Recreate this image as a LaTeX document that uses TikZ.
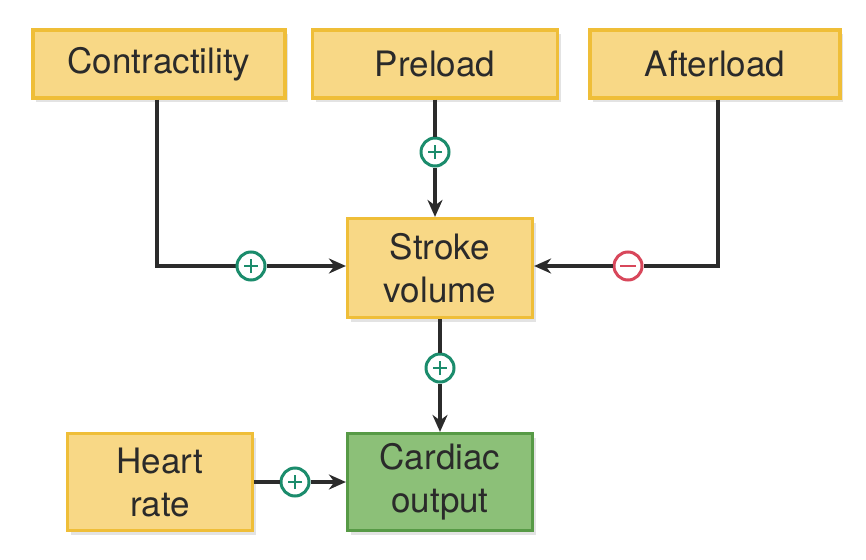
\documentclass[tikz,border=0pt]{standalone}
\usepackage{fontspec}
\setmainfont{TeX Gyre Heros}
\usetikzlibrary{arrows.meta,shadows}
\definecolor{yfill}{HTML}{F8D886}
\definecolor{ydraw}{HTML}{EFBE38}
\definecolor{gfill}{HTML}{8CC078}
\definecolor{gdraw}{HTML}{579A46}
\definecolor{plusc}{HTML}{1B8C6C}
\definecolor{minusc}{HTML}{D8475B}
\definecolor{txt}{HTML}{2A2A2A}
\definecolor{ln}{HTML}{2B2B2B}
\begin{document}
\begin{tikzpicture}[x=1pt,y=-1pt,
  boxbase/.style={rectangle, line width=3.2pt, inner sep=0pt, align=center,
    text=txt, font=\fontsize{35}{43}\selectfont,
    drop shadow={shadow xshift=3pt, shadow yshift=-4pt, opacity=0.18, fill=black!60}},
  ybox/.style={boxbase, fill=yfill, draw=ydraw},
  gbox/.style={boxbase, fill=gfill, draw=gdraw},
  conn/.style={draw=ln, line width=3.6pt},
  arr/.style={conn, -{Stealth[length=17pt,width=15pt]}},
  sign/.style={circle, minimum size=28pt, inner sep=0pt, fill=white, line width=3pt},
  plus/.style={sign, draw=plusc,
    path picture={\draw[plusc, line width=2.4pt]
      ([xshift=-7pt]path picture bounding box.center) -- ([xshift=7pt]path picture bounding box.center)
      ([yshift=-7pt]path picture bounding box.center) -- ([yshift=7pt]path picture bounding box.center);}},
  minus/.style={sign, draw=minusc,
    path picture={\draw[minusc, line width=2.4pt]
      ([xshift=-8pt]path picture bounding box.center) -- ([xshift=8pt]path picture bounding box.center);}}
]
\useasboundingbox (0,0) rectangle (866,559);
\fill[white] (0,0) rectangle (866,559);

\node[ybox, minimum width=252pt, minimum height=68pt] (contr) at (159,64) {Contractility};
\node[ybox, minimum width=245pt, minimum height=68pt] (pre) at (435,64) {Preload};
\node[ybox, minimum width=250pt, minimum height=68pt] (after) at (715,64) {Afterload};
\node[ybox, minimum width=185pt, minimum height=99pt] (sv) at (440,268) {Stroke\\volume};
\node[ybox, minimum width=185pt, minimum height=97pt] (hr) at (160,482) {Heart\\rate};
\node[gbox, minimum width=185pt, minimum height=97pt] (co) at (440,482) {Cardiac\\output};

\coordinate (c1) at (157,266);
\coordinate (c2) at (718,266);

% Contractility -> SV
\draw[conn] (contr.south -| c1) -- (c1) -- (251,266);
\node[plus] (p1) at (251,266) {};
\draw[arr] (p1) -- (sv.west |- p1);
% Preload -> SV
\node[plus] (p2) at (435,152) {};
\draw[conn] (pre.south) -- (p2);
\draw[arr] (p2) -- (sv.north -| p2);
% Afterload -> SV
\node[minus] (m1) at (628,266) {};
\draw[conn] (after.south -| c2) -- (c2) -- (m1);
\draw[arr] (m1) -- (sv.east |- m1);
% SV -> CO
\node[plus] (p3) at (440,368) {};
\draw[conn] (sv.south) -- (p3);
\draw[arr] (p3) -- (co.north);
% HR -> CO
\node[plus] (p4) at (295,482) {};
\draw[conn] (hr.east) -- (p4);
\draw[arr] (p4) -- (co.west);
\end{tikzpicture}
\end{document}
